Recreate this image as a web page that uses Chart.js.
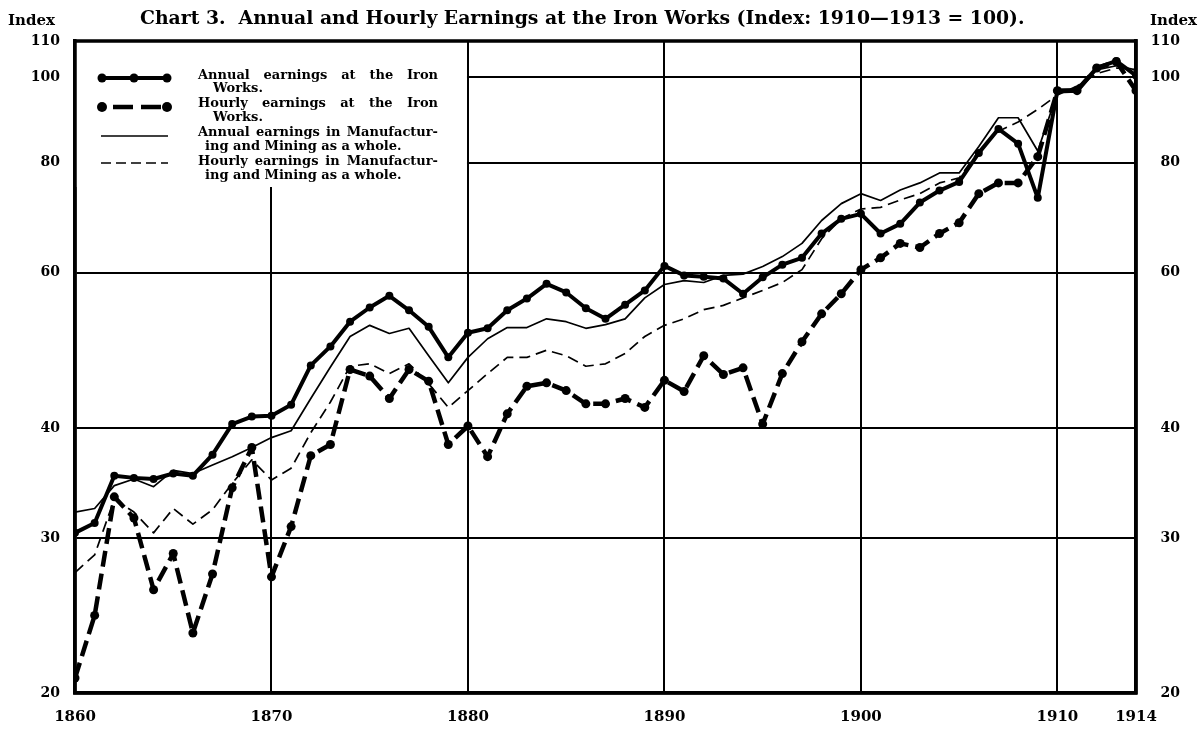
<!DOCTYPE html>
<html><head><meta charset="utf-8">
<script src="https://cdn.jsdelivr.net/npm/chart.js@4.4.0/dist/chart.umd.min.js"></script>
<style>html,body{margin:0;padding:0;background:#fff;}#wrap{width:1199px;height:734px;}</style>
</head><body><div id="wrap"><canvas id="c" width="1199" height="734"></canvas></div>
<script>
const years = [1860,1861,1862,1863,1864,1865,1866,1867,1868,1869,
  1870,1871,1872,1873,1874,1875,1876,1877,1878,1879,
  1880,1881,1882,1883,1884,1885,1886,1887,1888,1889,
  1890,1891,1892,1893,1894,1895,1896,1897,1898,1899,
  1900,1901,1902,1903,1904,1905,1906,1907,1908,1909,
  1910,1911,1912,1913,1914];
const annualIron = [30.4,31.2,35.3,35.1,35.0,35.5,35.3,37.3,40.4,41.2,
  41.3,42.5,47.1,49.5,52.8,54.8,56.5,54.4,52.1,48.1,
  51.3,51.9,54.4,56.1,58.3,57.0,54.7,53.2,55.2,57.3,
  61.1,59.6,59.4,59.1,56.8,59.3,61.3,62.4,66.5,69.1,
  70.0,66.5,68.2,72.1,74.4,76.1,82.1,87.4,84.1,73.0,
  96.6,96.8,102.5,104.4,100.5];
const hourlyIron = [20.8,24.5,33.4,31.6,26.2,28.8,23.4,27.3,34.2,38.0,
  27.1,30.9,37.2,38.3,46.6,45.8,43.2,46.6,45.2,38.3,
  40.2,37.1,41.5,44.6,45.0,44.1,42.6,42.6,43.2,42.2,
  45.3,44.0,48.3,46.0,46.8,40.4,46.1,50.1,53.9,56.8,
  60.5,62.4,64.8,64.1,66.5,68.4,73.8,75.9,75.9,81.3,
  96.6,96.6,102.5,104.2,96.6];
const annualManuf = [32.1,32.4,34.4,35.0,34.3,35.8,35.5,36.3,37.1,38.0,
  39.0,39.7,43.2,46.9,50.8,52.3,51.2,51.9,48.3,45.0,
  48.1,50.5,52.0,52.0,53.2,52.8,51.9,52.4,53.2,56.2,
  58.2,58.8,58.5,59.6,59.8,61.0,62.6,64.8,68.8,71.9,
  73.8,72.5,74.5,75.9,77.9,77.9,83.5,90.0,90.0,82.5,
  96.1,96.3,102.0,103.1,102.0];
const hourlyManuf = [27.4,28.7,33.2,32.1,30.4,32.4,31.1,32.3,34.6,36.8,
  34.9,36.0,39.5,42.8,47.0,47.3,46.1,47.3,44.9,42.2,
  44.1,46.1,48.1,48.1,49.0,48.3,47.0,47.3,48.6,50.8,
  52.3,53.2,54.5,55.1,56.2,57.3,58.5,60.5,65.6,69.1,
  70.9,71.2,72.6,73.8,75.9,76.9,82.5,86.9,89.0,92.0,
  95.5,97.8,101.0,102.5,102.0];
const yTicks = [20,30,40,60,80,100,110];
const xTicks = [1860,1870,1880,1890,1900,1910,1914];
const seriesNames = [
  ["Annual earnings at the Iron", "Works."],
  ["Hourly earnings at the Iron", "Works."],
  ["Annual earnings in Manufactur-", "ing and Mining as a whole."],
  ["Hourly earnings in Manufactur-", "ing and Mining as a whole."]
];
const titleText = "Chart 3.  Annual and Hourly Earnings at the Iron Works (Index: 1910\u20141913 = 100).";
const axisUnit = "Index";

const pts = arr => years.map((y, i) => ({x: y, y: arr[i]}));
const SERIF = '"DejaVu Serif", "Liberation Serif", serif';

const styles = [
  {borderWidth: 4, borderDash: [], pointRadius: 4},
  {borderWidth: 4.5, borderDash: [16, 7], pointRadius: 4.5},
  {borderWidth: 1.7, borderDash: [], pointRadius: 0},
  {borderWidth: 1.7, borderDash: [11, 6], pointRadius: 0}
];
const seriesData = [annualIron, hourlyIron, annualManuf, hourlyManuf];

const datasets = seriesData.map((arr, i) => ({
  label: seriesNames[i].join(' '),
  data: pts(arr),
  borderColor: '#000',
  backgroundColor: '#000',
  borderWidth: styles[i].borderWidth,
  borderDash: styles[i].borderDash,
  pointRadius: styles[i].pointRadius,
  pointBackgroundColor: '#000',
  pointBorderWidth: 0,
  pointHoverRadius: styles[i].pointRadius,
  tension: 0,
  fill: false,
  borderCapStyle: 'butt',
  borderJoinStyle: 'round'
}));

function drawJust(ctx, text, x, y, w) {
  const words = text.split(' ');
  const ww = words.map(t => ctx.measureText(t).width);
  const total = ww.reduce((a, b) => a + b, 0);
  const sp = ctx.measureText(' ').width;
  if (!w || words.length < 2 || total + sp * (words.length - 1) >= w) {
    ctx.fillText(text, x, y); return;
  }
  const gap = (w - total) / (words.length - 1);
  let cx = x;
  words.forEach((t, i) => { ctx.fillText(t, cx, y); cx += ww[i] + gap; });
}

const decor = {
  id: 'decor',
  beforeDatasetsDraw(chart) {
    // blank legend panel that interrupts the grid, as in the original
    const {ctx, chartArea: a, scales} = chart;
    const xr = scales.x.getPixelForValue(1880) - 1;
    ctx.save();
    ctx.fillStyle = '#fff';
    ctx.fillRect(a.left, a.top, xr - a.left, 146);
    ctx.restore();
  },
  afterDraw(chart) {
    const {ctx, chartArea: a} = chart;
    ctx.save();
    ctx.strokeStyle = '#000';
    ctx.lineWidth = 3.5;
    ctx.setLineDash([]);
    ctx.strokeRect(a.left, a.top, a.right - a.left, a.bottom - a.top);
    ctx.fillStyle = '#000';
    let fs = 20;
    ctx.font = 'bold ' + fs + 'px ' + SERIF;
    const w = ctx.measureText(titleText).width;
    fs = fs * 885 / w;
    ctx.font = 'bold ' + fs.toFixed(2) + 'px ' + SERIF;
    ctx.textBaseline = 'alphabetic';
    ctx.textAlign = 'left';
    ctx.fillText(titleText, 140, 24);
    ctx.font = 'bold 15px ' + SERIF;
    ctx.fillText(axisUnit, 8, 25);
    ctx.textAlign = 'right';
    ctx.fillText(axisUnit, 1197, 25);
    ctx.restore();

    const L = a.left, T = a.top;
    const lineY = [37, 66, 95, 122];
    const x0 = L + 26, x1 = L + 93;
    for (let i = 0; i < 4; i++) {
      const s = styles[i];
      const yy = T + lineY[i];
      ctx.save();
      ctx.strokeStyle = '#000';
      ctx.fillStyle = '#000';
      ctx.lineCap = 'butt';
      ctx.lineWidth = s.borderWidth;
      ctx.setLineDash(i === 3 ? [10, 5] : []);
      ctx.beginPath();
      if (i === 1) {
        ctx.moveTo(L + 38, yy); ctx.lineTo(L + 58, yy);
        ctx.moveTo(L + 66, yy); ctx.lineTo(L + 86, yy);
      } else {
        ctx.moveTo(x0, yy); ctx.lineTo(x1, yy);
      }
      ctx.stroke();
      if (s.pointRadius > 0) {
        const dots = i === 0 ? [x0 + 1, L + 59, x1 - 1] : [x0 + 1, x1 - 1];
        dots.forEach(dx => { ctx.beginPath(); ctx.arc(dx, yy, s.pointRadius + 0.5, 0, Math.PI * 2); ctx.fill(); });
      }
      ctx.restore();
    }
    ctx.save();
    ctx.font = 'bold 13px ' + SERIF;
    ctx.textAlign = 'left';
    ctx.textBaseline = 'middle';
    ctx.fillStyle = '#000';
    const textY = [[35, 48], [63, 77], [92, 106], [121, 135]];
    const indent = [15, 15, 7, 7];
    for (let i = 0; i < 4; i++) {
      drawJust(ctx, seriesNames[i][0], L + 123, T + textY[i][0], 240);
      ctx.fillText(seriesNames[i][1], L + 123 + indent[i], T + textY[i][1]);
    }
    ctx.restore();
  }
};

const tickFontY = {family: SERIF, size: 14, weight: 'bold'};
new Chart(document.getElementById('c'), {
  type: 'line',
  data: {datasets},
  options: {
    responsive: false,
    animation: false,
    layout: {padding: {top: 41, right: 19, left: 0, bottom: 0}},
    plugins: {legend: {display: false}, tooltip: {enabled: false}, title: {display: false}},
    scales: {
      x: {
        type: 'linear', min: 1860, max: 1914,
        afterBuildTicks: s => { s.ticks = xTicks.map(v => ({value: v})); },
        afterFit: s => { s.height = 41; },
        grid: {color: '#000', lineWidth: 2, drawTicks: false},
        border: {display: true, color: '#000', width: 3.5},
        ticks: {color: '#000', padding: 15, font: {family: SERIF, size: 15, weight: 'bold'},
          maxRotation: 0, autoSkip: false, callback: v => String(v)}
      },
      y: {
        type: 'logarithmic', min: 20, max: 110, position: 'left',
        afterBuildTicks: s => { s.ticks = yTicks.map(v => ({value: v})); },
        afterFit: s => { s.width = 75; },
        grid: {color: '#000', lineWidth: 2, drawTicks: false},
        border: {display: true, color: '#000', width: 3.5},
        ticks: {color: '#000', padding: 15, font: tickFontY, autoSkip: false, callback: v => String(v)}
      },
      y2: {
        type: 'logarithmic', min: 20, max: 110, position: 'right',
        afterBuildTicks: s => { s.ticks = yTicks.map(v => ({value: v})); },
        afterFit: s => { s.width = 44; },
        grid: {display: false, drawTicks: false},
        border: {display: true, color: '#000', width: 3.5},
        ticks: {color: '#000', padding: 10, crossAlign: 'far', font: tickFontY, autoSkip: false, callback: v => String(v)}
      }
    }
  },
  plugins: [decor]
});
</script></body></html>
